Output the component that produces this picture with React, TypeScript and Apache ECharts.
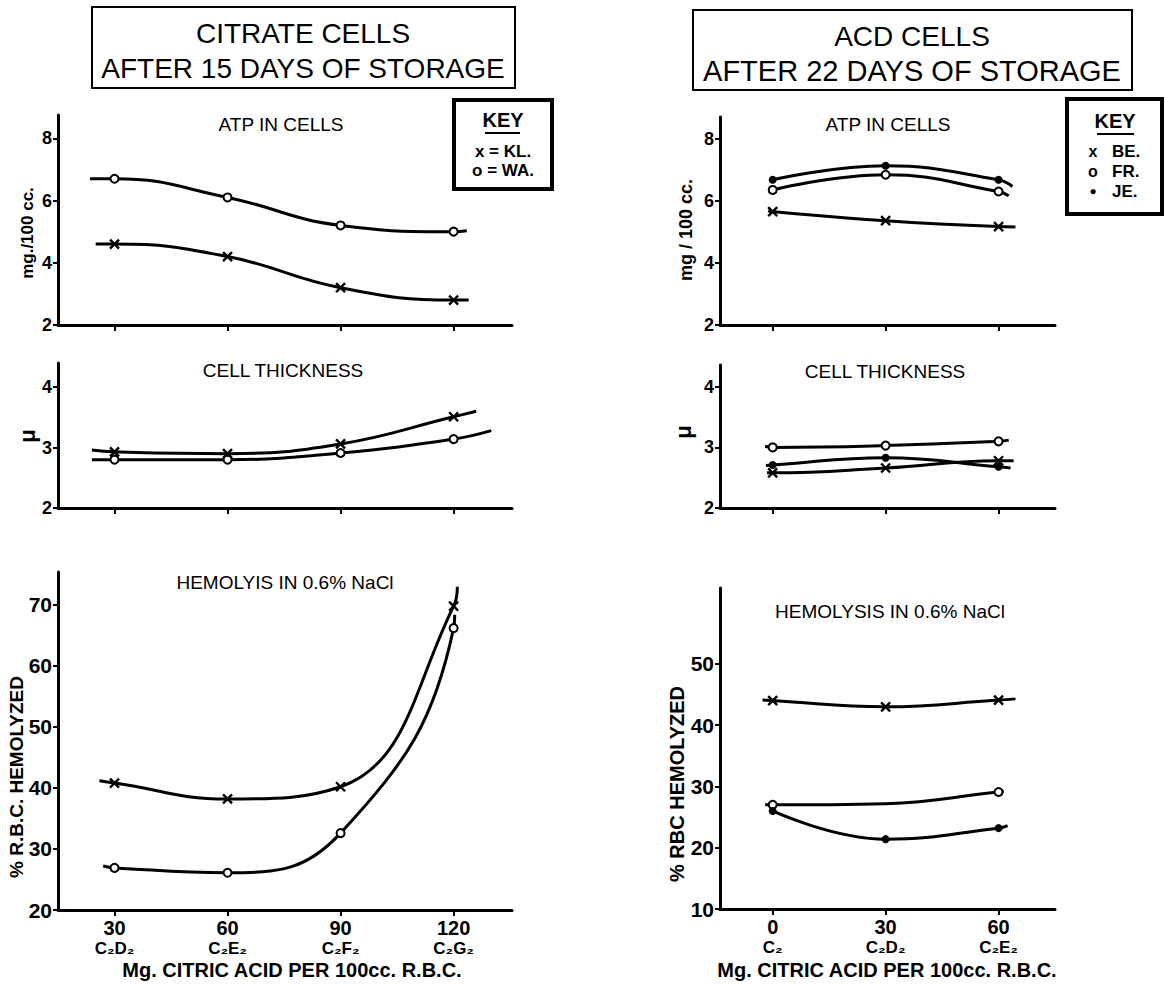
import React, { useEffect, useRef } from "react";
import * as echarts from "echarts";

// ---------- DATA ----------
// Left column: Citrate cells after 15 days of storage
const citrateDoses = [30, 60, 90, 120];
const citrateCodes = ["C₂D₂", "C₂E₂", "C₂F₂", "C₂G₂"];
const atpKL = [4.6, 4.2, 3.2, 2.8];
const atpWA = [6.7, 6.1, 5.2, 5.0];
const thickKL = [2.93, 2.9, 3.06, 3.51];
const thickWA = [2.8, 2.8, 2.91, 3.14];
const hemoKL = [40.8, 38.2, 40.2, 69.8];
const hemoWA = [26.9, 26.1, 32.6, 66.2];
// where each hand-drawn curve starts / ends beyond the points
const atpKLEnds = [[25, 4.6], [124, 2.8]];
const atpWAEnds = [[23.5, 6.7], [123.5, 5.03]];
const thickKLEnds = [[24, 2.96], [126, 3.6]];
const thickWAEnds = [[24, 2.8], [130, 3.28]];
const hemoKLEnds = [[26, 41.2], [121, 73]];
const hemoWAEnds = [[27, 27.2], [120.3, 68.4]];

// Right column: ACD cells after 22 days of storage
const acdDoses = [0, 30, 60];
const acdCodes = ["C₂", "C₂D₂", "C₂E₂"];
const atpBE = [5.65, 5.36, 5.17];
const atpFR = [6.35, 6.84, 6.3];
const atpJE = [6.68, 7.13, 6.68];
const thickBE = [2.58, 2.66, 2.78];
const thickFR = [3.0, 3.03, 3.1];
const thickJE = [2.71, 2.83, 2.68];
const hemoBE = [44.0, 43.0, 44.1];
const hemoFR = [27.0, 27.2, 29.1];
const hemoJE = [26.0, 21.4, 23.2];
const atpBEEnds = [[-1.2, 5.68], [64.5, 5.16]];
const atpFREnds = [null, [62.7, 6.16]];
const atpJEEnds = [null, [63.7, 6.46]];
const thickBEEnds = [[-1.5, 2.58], [64, 2.78]];
const thickFREnds = [[-2, 3.02], [62.7, 3.12]];
const thickJEEnds = [[-1.8, 2.7], [63.2, 2.66]];
const hemoBEEnds = [[-2.7, 44.1], [64.5, 44.3]];
const hemoFREnds = [[-2, 27.0], [61.4, 29.2]];
const hemoJEEnds = [null, [62.4, 23.6]];
const hemoFRUnmarked = [30]; // no marker drawn at this dose

// tick values
const atpTicks = [2, 4, 6, 8];
const thickTicks = [2, 3, 4];
const hemoLeftTicks = [20, 30, 40, 50, 60, 70];
const hemoRightTicks = [10, 20, 30, 40, 50];

// ---------- STYLE ----------
const FONT = "'Liberation Sans', Arial, sans-serif";
const CROSS = "path://M0,0L10,10M10,0L0,10";

type Marker = "cross" | "open" | "dot";

function markerStyle(m: Marker) {
  if (m === "cross")
    return { symbol: CROSS, symbolSize: 9, itemStyle: { color: "#000", borderColor: "#000", borderWidth: 2.4 } };
  if (m === "open")
    return { symbol: "emptyCircle", symbolSize: 8, itemStyle: { color: "#000", borderColor: "#000", borderWidth: 2 } };
  return { symbol: "circle", symbolSize: 8, itemStyle: { color: "#000", borderColor: "#000", borderWidth: 0 } };
}

function curve(
  name: string,
  idx: number,
  xs: number[],
  ys: number[],
  ends: (number[] | null)[],
  marker: Marker,
  unmarked: number[] = []
) {
  const data: any[] = [];
  if (ends[0]) data.push({ value: ends[0], symbol: "none" });
  xs.forEach((x, i) => {
    if (unmarked.includes(x)) data.push({ value: [x, ys[i]], symbol: "none" });
    else data.push({ value: [x, ys[i]] });
  });
  if (ends[1]) data.push({ value: ends[1], symbol: "none" });
  return {
    name,
    type: "line",
    xAxisIndex: idx,
    yAxisIndex: idx,
    smooth: 0.45,
    showSymbol: true,
    ...markerStyle(marker),
    lineStyle: { color: "#000", width: 3 },
    data,
    z: 3,
  };
}

const richStyles = {
  n: { fontSize: 20, fontWeight: "bold", fontFamily: FONT, color: "#000", lineHeight: 20, align: "center" },
  c: { fontSize: 17, fontWeight: "bold", fontFamily: FONT, color: "#000", lineHeight: 21, align: "center" },
};

function xAxisDef(idx: number, min: number, max: number, doses: number[], codes: string[] | null) {
  return {
    type: "value",
    gridIndex: idx,
    min,
    max,
    splitLine: { show: false },
    axisLine: { show: true, onZero: false, lineStyle: { color: "#000", width: 3 } },
    axisTick: { show: true, length: 6, customValues: doses, lineStyle: { color: "#000", width: 2 } },
    axisLabel: codes
      ? {
          show: true,
          customValues: doses,
          margin: 8,
          formatter: (v: number) => {
            const i = doses.indexOf(v);
            return i < 0 ? "" : `{n|${v}}\n{c|${codes[i]}}`;
          },
          rich: richStyles,
        }
      : { show: false },
  };
}

function yAxisDef(idx: number, min: number, max: number, ticks: number[], fontSize: number) {
  return {
    type: "value",
    gridIndex: idx,
    min,
    max,
    splitLine: { show: false },
    axisLine: { show: true, onZero: false, lineStyle: { color: "#000", width: 3 } },
    axisTick: { show: true, length: 5, customValues: ticks, lineStyle: { color: "#000", width: 2 } },
    axisLabel: {
      show: true,
      customValues: ticks,
      margin: 6,
      color: "#000",
      fontFamily: FONT,
      fontWeight: "bold",
      fontSize,
    },
  };
}

function txt(text: string, x: number, y: number, size: number, opts: any = {}) {
  return {
    type: "text",
    x,
    y,
    rotation: opts.rotation || 0,
    style: {
      text,
      fill: "#000",
      font: `${opts.weight || "normal"} ${size}px ${FONT}`,
      align: opts.align || "center",
      verticalAlign: "middle",
    },
    z: 10,
  };
}

function rect(x1: number, y1: number, x2: number, y2: number, lw: number) {
  return {
    type: "rect",
    shape: { x: x1, y: y1, width: x2 - x1, height: y2 - y1 },
    style: { fill: "#fff", stroke: "#000", lineWidth: lw },
    z: 5,
  };
}

function line(x1: number, y1: number, x2: number, y2: number, lw: number) {
  return {
    type: "line",
    shape: { x1, y1, x2, y2 },
    style: { stroke: "#000", lineWidth: lw },
    z: 10,
  };
}

export default function App() {
  const ref = useRef<HTMLDivElement>(null);
  useEffect(() => {
    if (!ref.current) return;
    const chart = echarts.init(ref.current, null, { renderer: "svg" });
    const L = { left: 58, width: 454 };
    const R = { left: 720, width: 335 };
    const option: any = {
      animation: false,
      backgroundColor: "#fff",
      grid: [
        { ...L, top: 115, height: 210 },
        { ...L, top: 363, height: 145 },
        { ...L, top: 572, height: 338 },
        { ...R, top: 117, height: 208 },
        { ...R, top: 365, height: 143 },
        { ...R, top: 588, height: 321 },
      ],
      xAxis: [
        xAxisDef(0, 15, 135.5, citrateDoses, null),
        xAxisDef(1, 15, 135.5, citrateDoses, null),
        xAxisDef(2, 15, 135.5, citrateDoses, citrateCodes),
        xAxisDef(3, -14, 75, acdDoses, null),
        xAxisDef(4, -14, 75, acdDoses, null),
        xAxisDef(5, -14, 75, acdDoses, acdCodes),
      ],
      yAxis: [
        yAxisDef(0, 2, 8.75, atpTicks, 18),
        yAxisDef(1, 2, 4.4, thickTicks, 18),
        yAxisDef(2, 20, 75.4, hemoLeftTicks, 21),
        yAxisDef(3, 2, 8.7, atpTicks, 18),
        yAxisDef(4, 2, 4.36, thickTicks, 18),
        yAxisDef(5, 10, 62.4, hemoRightTicks, 21),
      ],
      series: [
        curve("KL.", 0, citrateDoses, atpKL, atpKLEnds, "cross"),
        curve("WA.", 0, citrateDoses, atpWA, atpWAEnds, "open"),
        curve("KL.", 1, citrateDoses, thickKL, thickKLEnds, "cross"),
        curve("WA.", 1, citrateDoses, thickWA, thickWAEnds, "open"),
        curve("KL.", 2, citrateDoses, hemoKL, hemoKLEnds, "cross"),
        curve("WA.", 2, citrateDoses, hemoWA, hemoWAEnds, "open"),
        curve("BE.", 3, acdDoses, atpBE, atpBEEnds, "cross"),
        curve("FR.", 3, acdDoses, atpFR, atpFREnds, "open"),
        curve("JE.", 3, acdDoses, atpJE, atpJEEnds, "dot"),
        curve("BE.", 4, acdDoses, thickBE, thickBEEnds, "cross"),
        curve("FR.", 4, acdDoses, thickFR, thickFREnds, "open"),
        curve("JE.", 4, acdDoses, thickJE, thickJEEnds, "dot"),
        curve("BE.", 5, acdDoses, hemoBE, hemoBEEnds, "cross"),
        curve("FR.", 5, acdDoses, hemoFR, hemoFREnds, "open", hemoFRUnmarked),
        curve("JE.", 5, acdDoses, hemoJE, hemoJEEnds, "dot"),
      ],
      graphic: [
        // title boxes
        rect(92, 7, 515, 88, 2),
        txt("CITRATE CELLS", 303, 33, 28),
        txt("AFTER 15 DAYS OF STORAGE", 303, 68, 28),
        rect(693, 10, 1132, 90, 2),
        txt("ACD CELLS", 912, 36, 28),
        txt("AFTER 22 DAYS OF STORAGE", 912, 71, 29),
        // panel titles
        txt("ATP IN CELLS", 281, 124, 19),
        txt("CELL THICKNESS", 283, 370, 19),
        txt("HEMOLYIS IN 0.6% NaCl", 285, 582, 19),
        txt("ATP IN CELLS", 888, 124, 19),
        txt("CELL THICKNESS", 885, 371, 19),
        txt("HEMOLYSIS IN 0.6% NaCl", 890, 611, 19),
        // y axis names
        txt("mg./100 cc.", 27, 233, 17, { weight: "bold", rotation: Math.PI / 2 }),
        txt("μ", 27, 436, 22, { weight: "bold", rotation: Math.PI / 2 }),
        txt("% R.B.C. HEMOLYZED", 16, 777, 19, { weight: "bold", rotation: Math.PI / 2 }),
        txt("mg / 100 cc.", 686, 230, 18, { weight: "bold", rotation: Math.PI / 2 }),
        txt("μ", 683, 432, 22, { weight: "bold", rotation: Math.PI / 2 }),
        txt("% RBC HEMOLYZED", 677, 784, 20, { weight: "bold", rotation: Math.PI / 2 }),
        // x axis names
        txt("Mg. CITRIC ACID PER 100cc. R.B.C.", 292, 970, 20, { weight: "bold" }),
        txt("Mg. CITRIC ACID PER 100cc. R.B.C.", 887, 970, 20, { weight: "bold" }),
        // left key
        rect(454, 100, 552, 189, 4),
        txt("KEY", 503, 120, 20, { weight: "bold" }),
        line(485, 133, 520, 133, 2),
        txt("x = KL.", 503, 151, 17, { weight: "bold" }),
        txt("o = WA.", 503, 170, 17, { weight: "bold" }),
        // right key
        rect(1067, 99, 1162, 214, 4),
        txt("KEY", 1115, 121, 20, { weight: "bold" }),
        line(1097, 134, 1134, 134, 2),
        txt("x", 1093, 151, 16, { weight: "bold" }),
        txt("BE.", 1112, 151, 17, { weight: "bold", align: "left" }),
        txt("o", 1093, 171, 16, { weight: "bold" }),
        txt("FR.", 1112, 171, 17, { weight: "bold", align: "left" }),
        txt("●", 1093, 191, 12, { weight: "bold" }),
        txt("JE.", 1112, 191, 17, { weight: "bold", align: "left" }),
      ],
    };
    chart.setOption(option);
    return () => chart.dispose();
  }, []);
  return (
    <div
      ref={ref}
      style={{ position: "absolute", left: 0, top: 0, width: 1165, height: 986, background: "#fff" }}
    />
  );
}
